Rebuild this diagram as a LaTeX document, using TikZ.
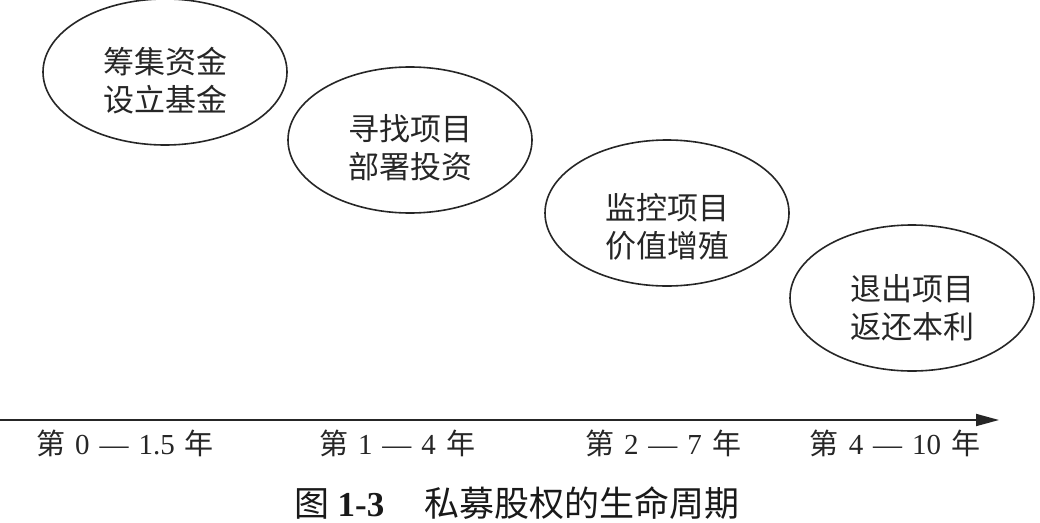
\documentclass[tikz,border=0pt]{standalone}
\usepackage{fontspec}
\setmainfont{Liberation Serif}
\newfontfamily\cjk{Noto Sans CJK SC}
\usetikzlibrary{shapes.geometric,arrows.meta}
\newcommand{\gp}{\hspace{10pt}}
\tikzset{
  stage/.style={draw=black!85, line width=1.6pt, ellipse, minimum width=244pt, minimum height=146pt, inner sep=0pt},
  stagetext/.style={font=\cjk\fontsize{31}{38}\selectfont, align=center, text=black!85},
  yearlabel/.style={font=\fontsize{29}{32}\selectfont, text=black!85, inner sep=0pt},
  axisline/.style={line width=1.8pt, draw=black!85, -{Triangle[length=23pt,width=12pt]}},
  captiontext/.style={font=\fontsize{35}{40}\selectfont, text=black!90, inner sep=0pt}
}
\begin{document}
\begin{tikzpicture}[x=1pt,y=-1pt]
\useasboundingbox (0,0) rectangle (1040,522);
\fill[white] (0,0) rectangle (1040,522);
% stages
\node[stage] (e1) at (165,72) {};
\node[stage] (e2) at (410,140) {};
\node[stage] (e3) at (667,213) {};
\node[stage] (e4) at (912,298) {};
\node[stagetext] (t1) at ([yshift=-9pt]e1.center) {筹集资金\\设立基金};
\node[stagetext] (t2) at ([yshift=-8pt]e2.center) {寻找项目\\部署投资};
\node[stagetext] (t3) at ([yshift=-14pt]e3.center) {监控项目\\价值增殖};
\node[stagetext] (t4) at ([yshift=-10pt]e4.center) {退出项目\\返还本利};
% axis
\coordinate (a0) at (0,420);
\coordinate (a1) at (999,420);
\draw[axisline] (a0) -- (a1);
% year labels
\node[yearlabel] (y1) at (125,443) {{\cjk 第}\gp0\gp—\gp1.5\gp{\cjk 年}};
\node[yearlabel] (y2) at (397,443) {{\cjk 第}\gp1\gp—\gp4\gp{\cjk 年}};
\node[yearlabel] (y3) at (663,443) {{\cjk 第}\gp2\gp—\gp7\gp{\cjk 年}};
\node[yearlabel] (y4) at (895,443) {{\cjk 第}\gp4\gp—\gp10\gp{\cjk 年}};
% caption
\node[captiontext] (cap) at (517,503) {{\cjk 图}\hspace{8pt}\textbf{1-3}\hspace{40pt}{\cjk 私募股权的生命周期}};
\end{tikzpicture}
\end{document}
